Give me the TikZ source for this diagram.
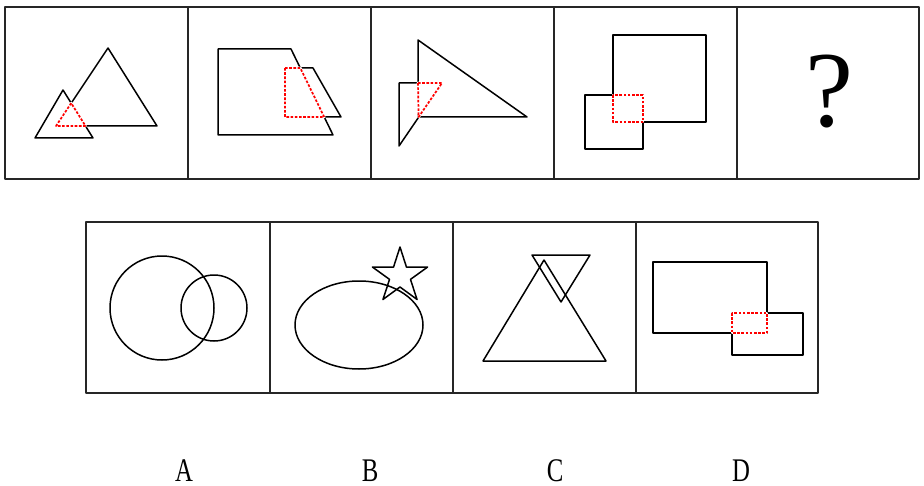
\documentclass[tikz,border=0pt]{standalone}
\usepackage{fontspec}
\setmainfont{Liberation Serif}
\begin{document}
\begin{tikzpicture}[x=.5pt, y=-.5pt, line join=round,
        frame/.style={line width=1.2pt, black!85},
        fig/.style={line width=.75pt},
        overlap/.style={preaction={draw=white, solid, line width=1.3pt},
            draw=red, line width=.85pt, dash pattern=on 1.3pt off .8pt},
        letter/.style={font=\fontsize{16.5}{16.5}\selectfont, xscale=.75, inner sep=0pt}]
    \useasboundingbox (0,0) rectangle (924,486);
    % hàng trên
    \draw[frame] (5,7) rectangle (919,179);
    \foreach \x in {188,371,554,737}{\draw[frame] (\x,7)--(\x,179);}
    % hàng dưới
    \draw[frame] (86,222) rectangle (818,393);
    \foreach \x in {270,453,636}{\draw[frame] (\x,222)--(\x,393);}
    % ô 1: hai tam giác
    \draw[fig] (108,48)--(56,126)--(157,126)--cycle;
    \draw[fig] (63,90)--(35,138)--(93,138)--cycle;
    \draw[overlap] (71.2,103.1)--(56,126)--(85.5,126)--cycle;
    % ô 2: hai hình thang
    \draw[fig] (218,49)--(291,49)--(333,135)--(218,135)--cycle;
    \draw[fig] (285,68)--(313,68)--(341,117)--(285,117)--cycle;
    \draw[overlap] (285,68)--(300.3,68)--(324.2,117)--(285,117)--cycle;
    % ô 3: hai tam giác vuông
    \draw[fig] (418,40)--(418,117)--(527,117)--cycle;
    \draw[fig] (399,83)--(442,83)--(399,146)--cycle;
    \draw[overlap] (418,83)--(442,83)--(418.6,117)--cycle;
    % ô 4: hai hình vuông
    \draw[fig] (613,35) rectangle (706,122);
    \draw[fig] (585,95) rectangle (643,149);
    \draw[overlap] (613,95) rectangle (643,122);
    % ô 5
    \node (q) at (829,92) {\fontsize{54}{54}\selectfont ?};
    % A
    \draw[fig] (162,308) circle (52);
    \draw[fig] (214,308) circle (33);
    % B
    \draw[fig] (359,325) ellipse (64 and 44);
    \draw[fig, shift={(400,276)}] (-90:29)
        \foreach \a in {-90,-18,54,126,198}{-- (\a+36:11) -- (\a+72:29)} -- cycle;
    % C
    \draw[fig] (544,260)--(483,361)--(606,361)--cycle;
    \draw[fig] (532,255)--(590,255)--(561,302)--cycle;
    % D
    \draw[fig] (653,262) rectangle (767,333);
    \draw[fig] (732,313) rectangle (803,355);
    \draw[overlap] (732,313) rectangle (767,333);
    % nhãn
    \node[letter] (la) at (184,471) {A};
    \node[letter] (lb) at (370,471) {B};
    \node[letter] (lc) at (555,471) {C};
    \node[letter] (ld) at (741,471) {D};
\end{tikzpicture}
\end{document}
